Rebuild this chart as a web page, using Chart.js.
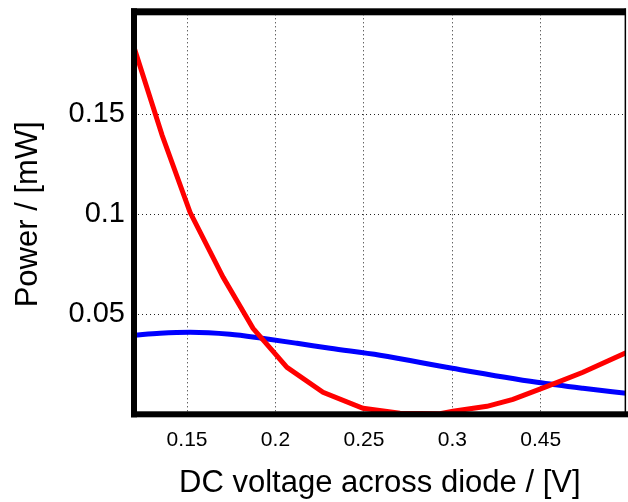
<!DOCTYPE html>
<html>
<head>
<meta charset="UTF-8">
<title>Power vs DC voltage</title>
<style>
  html, body { margin: 0; padding: 0; background: #fff; }
  #wrap { width: 628px; height: 502px; }
</style>
</head>
<body>
<div id="wrap"><canvas id="powerChart" width="628" height="502"></canvas></div>
<script src="https://cdn.jsdelivr.net/npm/chart.js@4.4.0/dist/chart.umd.min.js"></script>
<script>
// red curve
const redX = [0.120, 0.1359, 0.1517, 0.1704, 0.1873, 0.2065, 0.2269, 0.2495, 0.2704, 0.2930, 0.3004, 0.3196, 0.3343, 0.3536, 0.3739, 0.3988];
const redY = [0.1835, 0.1395, 0.1010, 0.0685, 0.0430, 0.0235, 0.0110, 0.0030, 0.0005, 0.0003, 0.0015, 0.0040, 0.0075, 0.0140, 0.0210, 0.0310];
// blue curve
const blueX = [0.120, 0.1347, 0.1517, 0.1743, 0.1924, 0.2122, 0.2309, 0.2591, 0.3000, 0.3479, 0.3739, 0.3988];
const blueY = [0.0395, 0.0405, 0.0410, 0.0400, 0.0380, 0.0355, 0.0330, 0.0295, 0.0230, 0.0160, 0.0130, 0.0105];

const xTicks = [0.15, 0.2, 0.25, 0.3, 0.35];
const xTickLabels = ['0.15', '0.2', '0.25', '0.3', '0.45'];
const yTicks = [0.05, 0.1, 0.15];
const yTickLabels = ['0.05', '0.1', '0.15'];

const FONT = '"Liberation Sans", Arial, Helvetica, sans-serif';

function toPoints(xs, ys) {
  return xs.map((x, i) => ({x: x, y: ys[i]}));
}

// thick frame round the plot (right side is thin)
const framePlugin = {
  id: 'frame',
  afterDatasetsDraw(chart) {
    const {ctx, chartArea: a} = chart;
    ctx.save();
    ctx.fillStyle = '#000';
    ctx.fillRect(a.left - 3, a.top - 6, 6, a.bottom - a.top + 9);   // left
    ctx.fillRect(a.left - 3, a.top - 6, a.right - a.left + 3, 7);   // top
    ctx.fillRect(a.left - 3, a.bottom - 3, a.right - a.left + 6, 6); // bottom
    ctx.fillRect(a.right - 1, a.top - 6, 1.5, a.bottom - a.top + 6); // right
    ctx.restore();
  }
};

const gridOpts = {
  color: '#222',
  lineWidth: 1,
  drawTicks: false,
  tickLength: 0
};

new Chart(document.getElementById('powerChart'), {
  type: 'line',
  data: {
    datasets: [{
      label: 'red',
      data: toPoints(redX, redY),
      borderColor: '#ff0000',
      borderWidth: 5,
      pointRadius: 0,
      tension: 0,
      fill: false
    }, {
      label: 'blue',
      data: toPoints(blueX, blueY),
      borderColor: '#0000ff',
      borderWidth: 5,
      pointRadius: 0,
      cubicInterpolationMode: 'monotone',
      fill: false
    }]
  },
  options: {
    responsive: false,
    animation: false,
    layout: { padding: { top: 14.3, right: 2.4, left: 0, bottom: 0 } },
    plugins: { legend: { display: false }, tooltip: { enabled: false } },
    scales: {
      x: {
        type: 'linear',
        min: 0.12,
        max: 0.398,
        afterBuildTicks: s => { s.ticks = xTicks.map(v => ({value: v})); },
        afterFit: s => { s.height = 87.7; s.paddingLeft = 0; s.paddingRight = 0; },
        border: { display: false, dash: [1, 3] },
        grid: gridOpts,
        ticks: {
          color: '#000',
          font: { family: FONT, size: 21 },
          padding: 13,
          maxRotation: 0,
          callback: (v) => {
            const i = xTicks.findIndex(t => Math.abs(t - v) < 1e-9);
            return i >= 0 ? xTickLabels[i] : '';
          }
        },
        title: {
          display: true,
          text: 'DC voltage across diode / [V]',
          color: '#000',
          font: { family: FONT, size: 31 },
          padding: { top: 0, bottom: 0 }
        }
      },
      y: {
        type: 'linear',
        min: 0,
        max: 0.2,
        afterBuildTicks: s => { s.ticks = yTicks.map(v => ({value: v})); },
        afterFit: s => { s.width = 134; s.paddingTop = 0; s.paddingBottom = 0; },
        border: { display: false, dash: [1, 3] },
        grid: gridOpts,
        ticks: {
          color: '#000',
          font: { family: FONT, size: 29 },
          padding: 9,
          callback: (v) => {
            const i = yTicks.findIndex(t => Math.abs(t - v) < 1e-9);
            return i >= 0 ? yTickLabels[i] : '';
          }
        },
        title: {
          display: true,
          text: 'Power / [mW]',
          color: '#000',
          font: { family: FONT, size: 31 },
          padding: { top: 9.4, bottom: 0 }
        }
      }
    }
  },
  plugins: [framePlugin]
});
</script>
</body>
</html>
